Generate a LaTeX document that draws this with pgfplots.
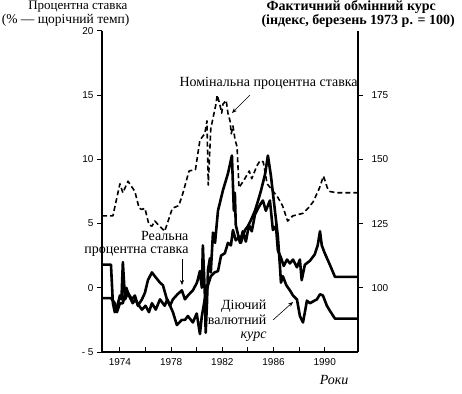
\documentclass[border=0pt]{standalone}
\usepackage{fontspec}
\setmainfont{Liberation Serif}
\newfontfamily\sansf{Liberation Sans}
\usepackage{pgfplots}
\pgfplotsset{compat=1.18}
\usepackage{pgfplotstable}
\usetikzlibrary{arrows.meta}

\pgfplotstableread{
year rate
1972.6 5.6
1973.45 5.6
1974.0 8.1
1974.23 7.4
1974.63 8.3
1975.17 7.5
1975.5 6.2
1975.72 6.1
1975.95 6.2
1976.27 4.9
1976.5 4.8
1976.73 5.2
1977.0 4.9
1977.5 4.4
1978.1 6.2
1978.6 6.4
1978.9 7.3
1979.4 9.1
1979.9 9.2
1980.25 11.5
1980.63 12.0
1980.8 13.0
1980.9 8.0
1981.1 12.4
1981.5 14.3
1981.6 15.0
1981.8 14.3
1981.95 13.6
1982.05 14.3
1982.3 14.6
1982.44 13.6
1982.6 13.0
1982.7 12.0
1982.83 12.6
1983.0 11.5
1983.15 11.0
1983.3 7.8
1983.7 8.4
1984.1 9.1
1984.3 8.5
1984.7 9.5
1984.95 9.9
1985.2 9.8
1985.5 8.1
1985.9 7.6
1986.3 7.1
1986.7 6.4
1987.1 5.2
1987.5 5.6
1987.9 5.7
1988.3 5.8
1988.7 6.2
1989.1 6.7
1989.6 7.8
1989.9 8.7
1990.2 7.8
1990.4 7.5
1990.95 7.4
1992.6 7.4
}\nominal

\pgfplotstableread{
year rate
1972.6 1.8
1973.3 1.8
1973.45 -1.2
1973.6 -1.9
1973.8 -1.4
1974.0 -0.6
1974.12 -0.9
1974.23 2.0
1974.4 -0.9
1974.63 -0.4
1974.94 -0.9
1975.17 -0.6
1975.4 -1.4
1975.72 -0.9
1975.95 -0.4
1976.19 0.6
1976.5 1.2
1976.73 0.9
1977.13 0.4
1977.36 0.2
1977.67 -0.9
1977.91 -1.4
1978.14 -0.9
1978.5 -0.5
1978.84 -0.2
1979.08 -0.9
1979.31 -0.6
1979.7 -0.2
1980.02 0.4
1980.25 1.3
1980.4 0.0
1980.48 3.3
1980.63 -0.4
1980.7 -3.5
1980.8 -1.2
1980.88 1.4
1981.03 2.3
1981.1 1.2
1981.27 4.3
1981.43 3.5
1981.66 6.0
1982.05 7.6
1982.44 8.9
1982.75 10.3
1982.9 6.0
1982.98 7.4
1983.05 4.9
1983.38 3.5
1983.6 4.4
1983.84 3.6
1984.08 4.9
1984.3 4.4
1984.55 5.7
1984.8 6.2
1985.03 6.6
1985.17 6.8
1985.4 6.0
1985.72 6.8
1985.95 4.5
1986.19 4.8
1986.34 2.9
1986.6 2.3
1986.8 1.7
1987.05 2.2
1987.28 1.9
1987.52 2.2
1987.83 1.6
1988.06 2.2
1988.2 0.6
1988.45 1.8
1988.84 2.1
1989.22 2.6
1989.45 3.3
1989.63 4.4
1989.77 3.3
1990.0 2.7
1990.4 1.8
1990.8 0.85
1992.6 0.85
}\realrate

\pgfplotstableread{
year index
1972.6 96
1973.3 96
1973.6 94
1973.77 90.5
1974.0 94
1974.23 94
1974.5 100
1974.7 97
1975.0 94
1975.2 95.5
1975.5 93
1975.72 91.5
1976.0 93
1976.27 90.5
1976.5 94
1976.8 91.5
1977.13 95.5
1977.5 93
1977.7 95.5
1978.14 90.5
1978.45 85.5
1978.84 87.5
1979.08 87.5
1979.31 89
1979.7 86.5
1980.0 90
1980.25 82
1980.4 89
1980.63 95.5
1980.88 101
1981.1 104.5
1981.4 106
1981.66 106.5
1981.9 112.5
1982.2 113.5
1982.44 117.5
1982.67 116.5
1982.83 122.5
1983.05 118.5
1983.38 120
1983.45 117.5
1983.77 122.5
1984.0 124
1984.25 126.5
1984.55 130
1984.8 134
1985.03 138
1985.35 144.5
1985.56 151.5
1985.8 143.5
1986.11 130
1986.34 120
1986.5 108.5
1986.58 102
1986.73 104.5
1987.0 101
1987.28 99
1987.52 97
1987.83 95.5
1988.06 89
1988.3 86.5
1988.45 90.5
1988.61 95
1988.84 94
1989.39 95.5
1989.63 97.5
1989.86 97
1990.17 93
1990.41 91
1990.8 88
1992.6 88
}\exchange

\begin{document}
\begin{tikzpicture}
\useasboundingbox (0,0) rectangle (462pt,393pt);
\begin{axis}[
  at={(102pt,41pt)}, anchor=south west,
  scale only axis, width=256pt, height=321pt,
  xmin=1972.6, xmax=1992.6, ymin=-5, ymax=20,
  axis x line*=bottom, axis y line*=left,
  axis line style={line width=1.2pt,-},
  xtick={1974,1978,1982,1986,1990},
  minor xtick={1976,1980,1984,1988},
  xticklabels={1974,1978,1982,1986,1990},
  ytick={-5,0,5,10,15,20},
  yticklabels={- 5,0,5,10,15,20},
  xtick align=inside, ytick align=outside,
  major tick length=5pt, minor tick length=5pt,
  every tick/.style={black, line width=1pt},
  tick label style={font=\sansf\fontsize{10}{11}\selectfont},
  xticklabel style={yshift=-3pt},
  /pgf/number format/assume math mode=true,
  clip=false,
]
\addplot[black, line width=1.6pt, dash pattern=on 5pt off 3pt, line join=round] table[x=year,y=rate] {\nominal};
\addplot[black, line width=2.6pt, line join=round] table[x=year,y=rate] {\realrate};
\end{axis}
\begin{axis}[
  at={(102pt,41pt)}, anchor=south west,
  scale only axis, width=256pt, height=321pt,
  xmin=1972.6, xmax=1992.6, ymin=75, ymax=200,
  axis x line=none, axis y line*=right,
  axis line style={line width=1.2pt,-},
  ytick={100,125,150,175},
  ytick align=outside,
  major tick length=5pt,
  every tick/.style={black, line width=1pt},
  tick label style={font=\sansf\fontsize{10}{11}\selectfont},
  yticklabel style={xshift=5pt},
  /pgf/number format/assume math mode=true,
  clip=false,
]
\addplot[black, line width=2.6pt, line join=round] table[x=year,y=index] {\exchange};
\end{axis}
% titles
\node[anchor=base east, font=\fontsize{13}{14}\selectfont] at (131pt,383pt) {Процентна ставка};
\node[anchor=base east, font=\fontsize{13.5}{14}\selectfont] at (133pt,369pt) {(\% — щорічний темп)};
\node[anchor=base west, font=\bfseries\fontsize{14}{15}\selectfont] at (263pt,382pt) {Фактичний обмінний курс};
\node[anchor=base west, font=\bfseries\fontsize{14}{15}\selectfont] at (258pt,368pt) {(індекс, березень 1973 р. = 100)};
% annotations
\node[anchor=base west, font=\fontsize{14}{15}\selectfont] at (176pt,306pt) {Номінальна процентна ставка};
\draw[-{Stealth[length=5pt,width=4pt]}, line width=0.6pt] (250pt,298pt) -- (232pt,280pt);
\node[anchor=base east, font=\fontsize{14}{15}\selectfont] at (192pt,152pt) {Реальна};
\node[anchor=base east, font=\fontsize{14}{15}\selectfont] at (192pt,139pt) {процентна ставка};
\draw[-{Stealth[length=5pt,width=4pt]}, line width=0.6pt] (182pt,134pt) -- (182pt,108pt);
\node[anchor=base east, font=\fontsize{14}{15}\selectfont] at (270pt,83pt) {Діючий};
\node[anchor=base east, font=\fontsize{14}{15}\selectfont] at (270pt,69pt) {валютний};
\node[anchor=base east, font=\itshape\fontsize{14}{15}\selectfont] at (270pt,55pt) {курс};
\draw[-{Stealth[length=5pt,width=4pt]}, line width=0.6pt] (273pt,73pt) -- (293pt,91pt);
\node[anchor=base east, font=\itshape\fontsize{14}{15}\selectfont] at (352pt,9pt) {Роки};
\end{tikzpicture}
\end{document}
